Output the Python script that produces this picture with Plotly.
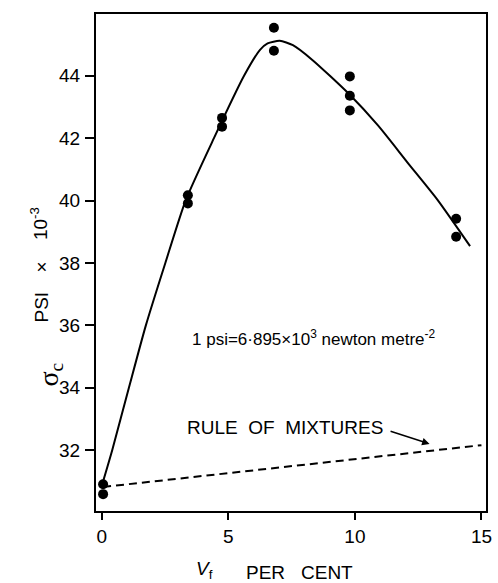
import plotly.graph_objects as go

# measured data points (Vf %, sigma_c psi x 1e-3)
pts_x = [0.05, 0.05, 3.4, 3.4, 4.75, 4.75, 6.8, 6.8, 9.8, 9.8, 9.8, 14.0, 14.0]
pts_y = [30.91, 30.59, 40.17, 39.91, 42.65, 42.37, 45.54, 44.80, 43.98, 43.36, 42.89, 39.42, 38.84]

# hand-drawn fitted curve
curve_x = [0.05, 0.41, 1.07, 1.74, 2.51, 3.31, 4.43, 5.62, 6.25, 6.55, 7.03, 7.55, 8.33, 9.75, 10.92, 12.08, 13.25, 14.55]
curve_y = [31.0, 32.0, 34.0, 36.0, 38.0, 40.0, 42.0, 44.0, 44.83, 45.04, 45.12, 44.98, 44.5, 43.43, 42.4, 41.22, 40.04, 38.54]

# rule of mixtures line
rom_x = [0.05, 15.0]
rom_y = [30.82, 32.16]

x_ticks = [0, 5, 10, 15]
y_ticks = [32, 34, 36, 38, 40, 42, 44]

FONT = "Liberation Sans, Arial, sans-serif"

fig = go.Figure()
fig.add_trace(go.Scatter(x=curve_x, y=curve_y, mode="lines",
                         line=dict(color="black", width=2, shape="spline", smoothing=0.6),
                         showlegend=False, hoverinfo="skip"))
fig.add_trace(go.Scatter(x=rom_x, y=rom_y, mode="lines",
                         line=dict(color="black", width=2, dash="8px,5px"),
                         showlegend=False, hoverinfo="skip"))
fig.add_trace(go.Scatter(x=pts_x, y=pts_y, mode="markers",
                         marker=dict(color="black", size=10),
                         showlegend=False))

fig.update_layout(
    width=498, height=583,
    margin=dict(l=96, r=6, t=14, b=72),
    paper_bgcolor="white", plot_bgcolor="white",
    font=dict(family=FONT, size=19, color="black"),
    xaxis=dict(range=[-0.23, 15.18], tickvals=x_ticks, ticks="outside", ticklen=7,
               tickwidth=1.5, tickcolor="black", showline=True, linecolor="black",
               linewidth=2, mirror=True, showgrid=False, zeroline=False,
               tickfont=dict(size=19)),
    yaxis=dict(range=[30.05, 45.98], tickvals=y_ticks, ticks="outside", ticklen=9,
               tickwidth=1.5, tickcolor="black", showline=True, linecolor="black",
               linewidth=2, mirror=True, showgrid=False, zeroline=False,
               tickfont=dict(size=19), ticklabelstandoff=1),
)

def px_to_paper_x(px):
    return (px - 96) / 396.0

def py_to_paper_y(py):
    return (511 - py) / 497.0

ann = []
# y-axis title pieces (rotated)
ann.append(dict(text="σ<sub>c</sub>", xref="paper", yref="paper",
                x=px_to_paper_x(29), y=py_to_paper_y(389), textangle=-90,
                showarrow=False, font=dict(size=28, family="Liberation Serif, serif")))
ann.append(dict(text="PSI", xref="paper", yref="paper",
                x=px_to_paper_x(27), y=py_to_paper_y(307), textangle=-90,
                showarrow=False, font=dict(size=19)))
ann.append(dict(text="×", xref="paper", yref="paper",
                x=px_to_paper_x(27), y=py_to_paper_y(267), textangle=-90,
                showarrow=False, font=dict(size=19)))
ann.append(dict(text="10<sup>-3</sup>", xref="paper", yref="paper",
                x=px_to_paper_x(24), y=py_to_paper_y(224), textangle=-90,
                showarrow=False, font=dict(size=19)))
# x-axis title
ann.append(dict(text="<i>V</i><sub>f</sub>", xref="paper", yref="paper",
                x=px_to_paper_x(196), y=py_to_paper_y(570), xanchor="left", yanchor="middle",
                showarrow=False, font=dict(size=19)))
ann.append(dict(text="PER", xref="paper", yref="paper",
                x=px_to_paper_x(246), y=py_to_paper_y(572), xanchor="left", yanchor="middle",
                showarrow=False, font=dict(size=19)))
ann.append(dict(text="CENT", xref="paper", yref="paper",
                x=px_to_paper_x(302), y=py_to_paper_y(572), xanchor="left", yanchor="middle",
                showarrow=False, font=dict(size=19)))
# unit note
ann.append(dict(text="1 psi=6·895×10<sup>3</sup> newton metre<sup>-2</sup>",
                x=8.36, y=35.58, xref="x", yref="y", showarrow=False,
                font=dict(size=17)))
# rule of mixtures label + arrow
ann.append(dict(text="RULE\u00a0\u00a0OF\u00a0\u00a0MIXTURES", x=3.3, y=32.72, xref="x", yref="y",
                xanchor="left", showarrow=False, font=dict(size=19)))
ann.append(dict(text="", x=12.95, y=32.2, ax=11.35, ay=32.62, xref="x", yref="y",
                axref="x", ayref="y", showarrow=True, arrowhead=2, arrowsize=1,
                arrowwidth=1.5, arrowcolor="black"))
fig.update_layout(annotations=ann)

fig.write_html("out.html", config={"displayModeBar": False},
               post_script="document.body.style.margin='0';document.body.style.overflow='hidden';")
